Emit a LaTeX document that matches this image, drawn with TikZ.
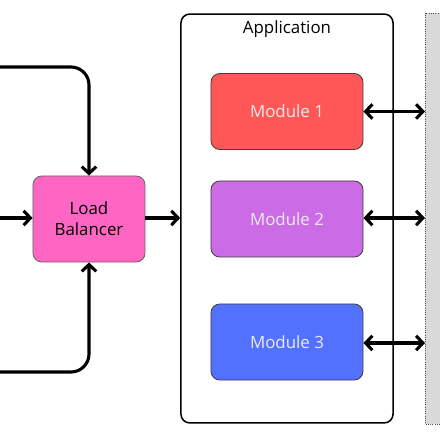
\documentclass[tikz,border=0pt]{standalone}
\usepackage{fontspec}
\setmainfont{Open Sans}
\usetikzlibrary{arrows.meta, positioning}

\begin{document}
\begin{tikzpicture}[x=0.025cm, y=-0.025cm, every node/.style={font=\fontsize{12}{15}\selectfont},
  module/.style={draw=black!75, line width=0.6pt, rounded corners=0.22cm, minimum width=3.8cm, minimum height=1.9cm, text=white!92!black, align=center},
  flow/.style={line width=2.2pt, -{Straight Barb[length=0.17cm, width=0.36cm]}},
  link/.style={line width=2.2pt, {Straight Barb[length=0.17cm, width=0.36cm]}-{Straight Barb[length=0.17cm, width=0.36cm]}}]
  \useasboundingbox (0,0) rectangle (440,440);
  % backing store
  \draw[draw=black!70, densely dotted, fill=black!15, line width=0.6pt] (425,13) rectangle (446,424);
  \node[draw, line width=1.1pt, rounded corners=0.22cm, minimum width=5.3cm, minimum height=10.22cm] (app) at (287,218.5) {};
  \node[below=0.06cm of app.north] (apptitle) {Application};
  \node[module, fill={rgb,255:red,255;green,87;blue,87}] (m1) at (287,111.5) {Module 1};
  \node[module, fill={rgb,255:red,203;green,108;blue,230}] (m2) at (287,219) {Module 2};
  \node[module, fill={rgb,255:red,82;green,113;blue,255}] (m3) at (287,342) {Module 3};
  \node[draw=black!60, line width=0.6pt, rounded corners=0.22cm, fill={rgb,255:red,255;green,102;blue,196}, minimum width=2.8cm, minimum height=2.15cm, align=center] (lb) at (89,219) {Load\\Balancer};
  \coordinate (store) at (425,0);
  \coordinate (in1) at (-5,67);
  \coordinate (in2) at (-5,218);
  \coordinate (in3) at (-5,372);
  \draw[flow, rounded corners=0.45cm] (in1) -| (lb.north);
  \draw[flow] (in2) -- (lb.west |- in2);
  \draw[flow, rounded corners=0.45cm] (in3) -| (lb.south);
  \draw[flow] (lb.east |- in2) -- (app.west |- in2);
  \draw[link] (m1.east) -- (m1.east -| store);
  \draw[link] (m2.east |- 0,218) -- (store |- 0,218);
  \draw[link] (m3.east |- 0,343) -- (store |- 0,343);
\end{tikzpicture}
\end{document}
